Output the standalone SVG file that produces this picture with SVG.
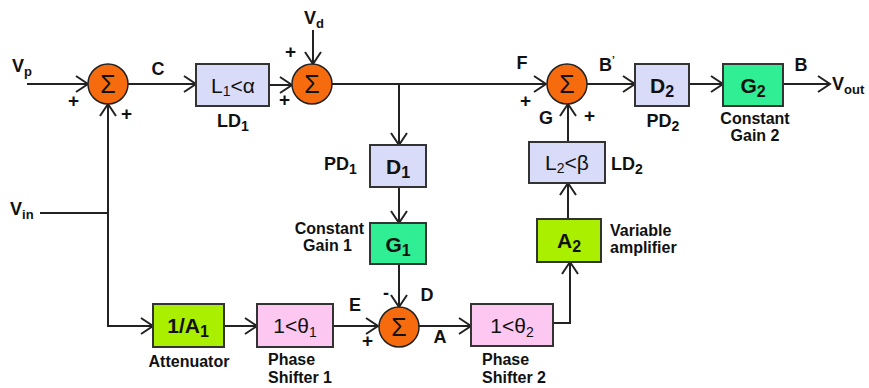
<svg xmlns="http://www.w3.org/2000/svg" width="869" height="388" viewBox="0 0 869 388">
<style>
text{font-family:"Liberation Sans",Arial,sans-serif;fill:#111}
.b{font-weight:bold}
.lbl{font-size:18px;font-weight:bold}
.pl{font-size:19px;font-weight:bold}
.sm{font-size:16px;font-weight:bold}
.bx{font-size:21px}
.sig{font-size:25px;text-anchor:middle}
.sum{fill:#f76b0f;stroke:#222;stroke-width:1.5}
.lb{fill:#d8dcf8;stroke:#333;stroke-width:2}
.gr{fill:#2fee94;stroke:#333;stroke-width:2}
.yg{fill:#aaee00;stroke:#333;stroke-width:2}
.pk{fill:#fcc8f2;stroke:#333;stroke-width:2}
.c{fill:none;stroke:#222;stroke-width:2}
.m{text-anchor:middle}
</style>
<defs>
<marker id="ar" markerUnits="userSpaceOnUse" markerWidth="16" markerHeight="18" refX="13" refY="8" orient="auto" overflow="visible">
<path d="M1,0 L13,8 L1,16" fill="none" stroke="#222" stroke-width="2"/>
</marker>
</defs>
<g id="connectors" class="c">
<line x1="27" y1="84" x2="88" y2="84" marker-end="url(#ar)"/>
<line x1="128" y1="84" x2="196" y2="84" marker-end="url(#ar)"/>
<line x1="269" y1="85" x2="292" y2="85" marker-end="url(#ar)"/>
<line x1="313" y1="30" x2="313" y2="64" marker-end="url(#ar)"/>
<line x1="332" y1="84" x2="546" y2="84" marker-end="url(#ar)"/>
<line x1="399" y1="84" x2="399" y2="145" marker-end="url(#ar)"/>
<line x1="399" y1="187" x2="399" y2="223" marker-end="url(#ar)"/>
<line x1="399" y1="264" x2="399" y2="307" marker-end="url(#ar)"/>
<line x1="40" y1="213" x2="108" y2="213"/>
<polyline points="153,326 108,326 108,104" marker-end="url(#ar)"/>
<line x1="108" y1="326" x2="153" y2="326" marker-end="url(#ar)"/>
<line x1="224" y1="326" x2="257" y2="326" marker-end="url(#ar)"/>
<line x1="333" y1="326" x2="378" y2="326" marker-end="url(#ar)"/>
<line x1="419" y1="326" x2="471" y2="326" marker-end="url(#ar)"/>
<polyline points="553,323 570,323 570,262" marker-end="url(#ar)"/>
<line x1="568" y1="219" x2="568" y2="183" marker-end="url(#ar)"/>
<line x1="568" y1="142" x2="568" y2="104" marker-end="url(#ar)"/>
<line x1="587" y1="84" x2="635" y2="84" marker-end="url(#ar)"/>
<line x1="689" y1="84" x2="723" y2="84" marker-end="url(#ar)"/>
<line x1="783" y1="84" x2="830" y2="84" marker-end="url(#ar)"/>
</g>
<g id="sum1"><circle class="sum" cx="108" cy="84" r="20"/><text class="sig" x="108" y="93">Σ</text></g>
<g id="sum2"><circle class="sum" cx="312" cy="84" r="20"/><text class="sig" x="312" y="93">Σ</text></g>
<g id="sum3"><circle class="sum" cx="567" cy="84" r="20"/><text class="sig" x="567" y="93">Σ</text></g>
<g id="sum4"><circle class="sum" cx="399" cy="327" r="20"/><text class="sig" x="399" y="336">Σ</text></g>
<g id="L1"><rect class="lb" x="196" y="64" width="73" height="42"/><text class="bx m" x="233" y="93">L<tspan font-size="14" dy="3">1</tspan><tspan dy="-3">&lt;α</tspan></text></g>
<g id="D1"><rect class="lb" x="370" y="145" width="56" height="42"/><text class="bx b m" x="398" y="174">D<tspan font-size="16" dy="4">1</tspan></text></g>
<g id="G1"><rect class="gr" x="370" y="223" width="56" height="41"/><text class="bx b m" x="398" y="252">G<tspan font-size="16" dy="4">1</tspan></text></g>
<g id="D2"><rect class="lb" x="635" y="64" width="54" height="42"/><text class="bx b m" x="662" y="93">D<tspan font-size="16" dy="4">2</tspan></text></g>
<g id="G2"><rect class="gr" x="723" y="64" width="60" height="42"/><text class="bx b m" x="753" y="93">G<tspan font-size="16" dy="4">2</tspan></text></g>
<g id="L2"><rect class="lb" x="529" y="142" width="76" height="41"/><text class="bx m" x="567" y="170">L<tspan font-size="14" dy="3">2</tspan><tspan dy="-3">&lt;β</tspan></text></g>
<g id="A2"><rect class="yg" x="537" y="219" width="64" height="43"/><text class="bx b m" x="569" y="248">A<tspan font-size="16" dy="4">2</tspan></text></g>
<g id="A1"><rect class="yg" x="153" y="304" width="71" height="43"/><text class="bx b m" x="188" y="333">1/A<tspan font-size="16" dy="4">1</tspan></text></g>
<g id="P1"><rect class="pk" x="257" y="304" width="76" height="43"/><text class="bx m" x="295" y="333">1&lt;θ<tspan font-size="14" dy="4">1</tspan></text></g>
<g id="P2"><rect class="pk" x="471" y="304" width="82" height="42"/><text class="bx m" x="512" y="333">1&lt;θ<tspan font-size="14" dy="4">2</tspan></text></g>
<g id="labels">
<text class="lbl" x="12" y="72">V<tspan font-size="13" dy="4">p</tspan></text>
<text class="lbl" x="304" y="24">V<tspan font-size="13" dy="4">d</tspan></text>
<text class="lbl" x="10" y="215">V<tspan font-size="13" dy="4">in</tspan></text>
<text class="lbl" x="832" y="90">V<tspan font-size="13" dy="4">out</tspan></text>
<text class="pl" x="68" y="107">+</text>
<text class="pl" x="121" y="120">+</text>
<text class="pl" x="285" y="58">+</text>
<text class="pl" x="279" y="106">+</text>
<text class="pl" x="520" y="107">+</text>
<text class="pl" x="584" y="122">+</text>
<text class="pl" x="362" y="347">+</text>
<text class="lbl" x="383" y="299">-</text>
<text class="lbl m" x="158" y="75">C</text>
<text class="lbl m" x="522" y="69">F</text>
<text class="lbl m" x="546" y="124">G</text>
<text class="lbl" x="599" y="71">B<tspan font-size="10" dy="-7">’</tspan></text>
<text class="lbl m" x="801" y="71">B</text>
<text class="lbl m" x="427" y="301">D</text>
<text class="lbl m" x="355" y="311">E</text>
<text class="lbl m" x="440" y="343">A</text>
<text class="lbl m" x="233" y="127">LD<tspan font-size="14" dy="4">1</tspan></text>
<text class="lbl m" x="663" y="127">PD<tspan font-size="14" dy="4">2</tspan></text>
<text class="lbl" x="324" y="170">PD<tspan font-size="14" dy="4">1</tspan></text>
<text class="lbl" x="611" y="170">LD<tspan font-size="14" dy="4">2</tspan></text>
<text class="sm m" x="755" y="124">Constant</text>
<text class="sm m" x="755" y="141">Gain 2</text>
<text class="sm" x="364" y="234" text-anchor="end">Constant</text>
<text class="sm" x="352" y="251" text-anchor="end">Gain 1</text>
<text class="sm" x="610" y="236">Variable</text>
<text class="sm" x="610" y="253">amplifier</text>
<text class="sm m" x="189" y="367">Attenuator</text>
<text class="sm" x="268" y="365">Phase</text>
<text class="sm" x="268" y="383">Shifter 1</text>
<text class="sm" x="482" y="365">Phase</text>
<text class="sm" x="482" y="383">Shifter 2</text>
</g>
</svg>
